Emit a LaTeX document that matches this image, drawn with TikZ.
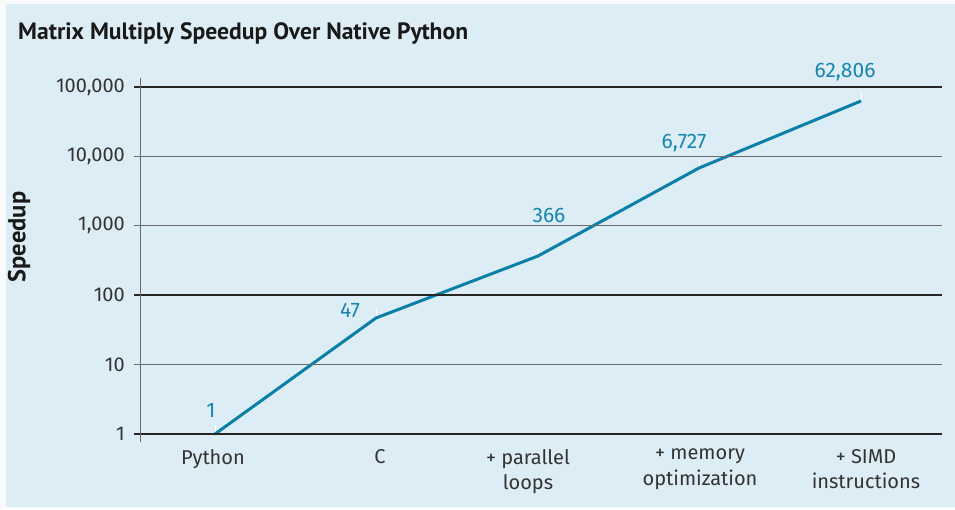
\documentclass[tikz,border=0pt]{standalone}
\usepackage{fontspec}
\setmainfont{Fira Sans}
\newfontfamily\titlefont{PT Sans}
\definecolor{bgblue}{HTML}{DDEDF5}
\definecolor{outer}{HTML}{F7F9FA}
\definecolor{linecol}{HTML}{0A7FA8}
\definecolor{labcol}{HTML}{1786AE}
\definecolor{txt}{HTML}{333333}
\definecolor{thingrid}{HTML}{6A6A6A}
\begin{document}
\begin{tikzpicture}[x=1pt,y=-1pt,
  majorgrid/.style={draw=black!85, line width=1.6pt},
  minorgrid/.style={draw=thingrid, line width=1pt},
  ticklab/.style={anchor=east, text=txt, font=\fontsize{20}{22}\selectfont, inner sep=0pt},
  catlab/.style={align=center, text=txt, font=\fontsize{20}{25.5}\selectfont, inner sep=0pt, anchor=north},
  datalab/.style={text=labcol, font=\fontsize{21}{24}\selectfont, inner sep=0pt},
  series/.style={draw=linecol, line width=3pt, line join=round},
  pin/.style={draw=white, line width=1pt}]
\fill[outer] (0,0) rectangle (955,509);
\useasboundingbox (0,0) rectangle (955,509);
\fill[bgblue] (6,4) rectangle (955,507);
% title
\node[anchor=west, inner sep=0pt, text=black!90, font=\titlefont\bfseries\fontsize{23.6}{26}\selectfont] (title) at (18,33) {Matrix Multiply Speedup Over Native Python};
\node[rotate=90, inner sep=0pt, text=black!90, font=\titlefont\bfseries\fontsize{24.5}{26}\selectfont] (ylab) at (19,237) {Speedup};
% coordinates
\foreach \v/\y in {0/434,1/364.6,2/295.2,3/225.8,4/156.4,5/87}{
  \coordinate (gl\v) at (134,\y);
  \coordinate (gr\v) at (942,\y);
}
% data points
\coordinate (p1) at (215,434);
\coordinate (p2) at (376,318);
\coordinate (p3) at (538,256);
\coordinate (p4) at (699,168);
\coordinate (p5) at (861,101);
% pins
\foreach \i in {1,...,5}{\draw[pin] (p\i) ++(0,-2) -- ++(0,-7);}
% series
\draw[series] (p1) -- (p2) -- (p3) -- (p4) -- (p5);
% grid
\draw[minorgrid] (gl1) -- (gr1);
\draw[minorgrid] (gl3) -- (gr3);
\draw[minorgrid] (gl4) -- (gr4);
\draw[majorgrid] (gl0) -- (gr0);
\draw[majorgrid] (gl2) -- (gr2);
\draw[majorgrid] (gl5) -- (gr5);
\coordinate (axtop) at (140,78);
\coordinate (axbot) at (140,442);
\draw[minorgrid] (axtop) -- (axbot);
% tick labels
\node[ticklab] (t0) at (125,434) {1};
\node[ticklab] (t1) at (125,364.6) {10};
\node[ticklab] (t2) at (125,295.2) {100};
\node[ticklab] (t3) at (125,225.8) {1,000};
\node[ticklab] (t4) at (125,156.4) {10,000};
\node[ticklab] (t5) at (125,87) {100,000};
% category labels
\node[catlab] (c1) at (213,449) {Python};
\node[catlab] (c2) at (380,449) {C};
\node[catlab] (c3) at (528,449) {+ parallel\\loops};
\node[catlab] (c4) at (700,449) {+ memory\\optimization};
\node[catlab] (c5) at (866,449) {+ SIMD\\instructions};
% data labels
\node[datalab] (d1) at (211,410) {1};
\node[datalab] (d2) at (350,310) {47};
\node[datalab] (d3) at (549,215) {366};
\node[datalab] (d4) at (684,143) {6,727};
\node[datalab] (d5) at (845,72) {62,806};
\end{tikzpicture}
\end{document}
